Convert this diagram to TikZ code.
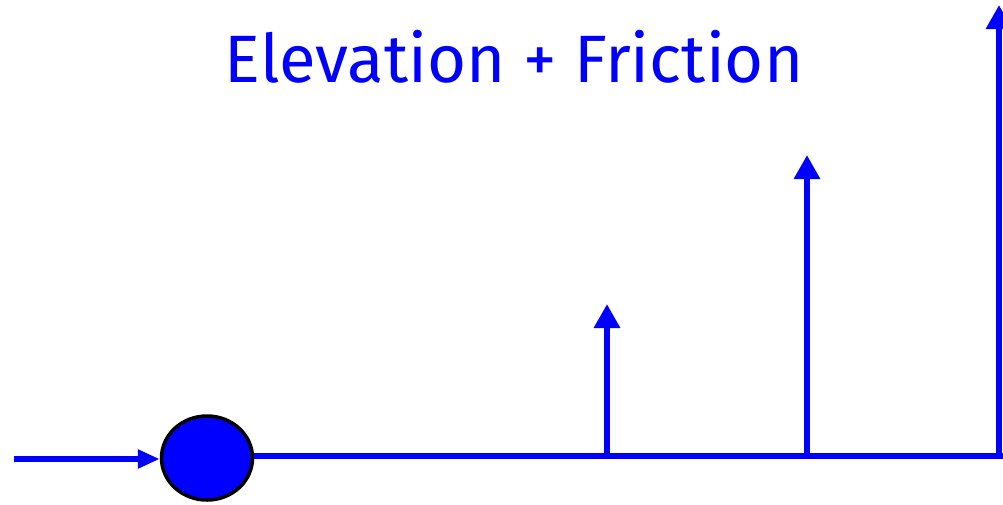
\documentclass[tikz,border=0pt]{standalone}
\usepackage{fontspec}
\setmainfont{Fira Sans}
\usetikzlibrary{arrows.meta,shapes.geometric}
\definecolor{pblue}{RGB}{0,0,255}
\tikzset{
  rod/.style={draw=pblue, line width=6pt},
  uparrow/.style={rod, -{Triangle[width=25pt,length=24pt]}},
  inarrow/.style={draw=pblue, line width=6pt, -{Triangle[width=18pt,length=22pt]}},
  ball/.style={ellipse, draw=black, fill=pblue, line width=3.5pt, minimum width=91pt, minimum height=84pt, inner sep=0pt},
  title/.style={text=pblue, font=\fontsize{67}{75}\selectfont, anchor=base}
}
\begin{document}
\begin{tikzpicture}[x=1pt,y=-1pt]
\useasboundingbox (0,0) rectangle (1003,504);
\node[title] (t) at (514,82) {Elevation + Friction};
\node[ball] (b) at (207,458) {};
\coordinate (s) at (14,459);
\coordinate (e) at (1003,456);
\coordinate (p1) at (607,458);
\coordinate (p2) at (807,458);
\coordinate (p3) at (999,458);
\coordinate (q1) at (607,304);
\coordinate (q2) at (807,155);
\coordinate (q3) at (999,5);
\draw[inarrow] (s) -- (b.west |- s);
\draw[rod] (b.east |- e) -- (e);
\draw[uparrow] (p1) -- (q1);
\draw[uparrow] (p2) -- (q2);
\draw[uparrow] (p3) -- (q3);
\end{tikzpicture}
\end{document}
